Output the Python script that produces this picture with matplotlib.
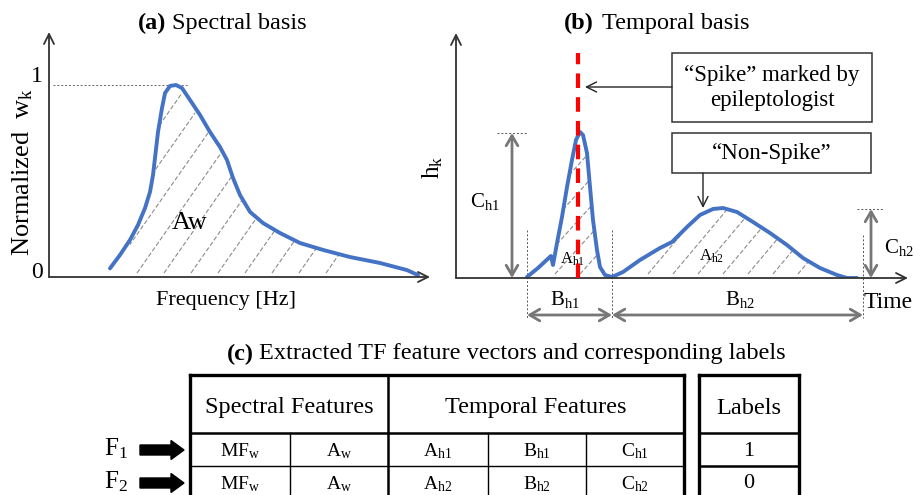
import numpy as np
import matplotlib
matplotlib.use('Agg')
import matplotlib.pyplot as plt
from matplotlib.patches import Polygon, Rectangle, FancyArrow

plt.rcParams['font.family'] = ['Liberation Serif', 'DejaVu Serif']
plt.rcParams['mathtext.fontset'] = 'custom'
plt.rcParams['mathtext.rm'] = 'Liberation Serif'
plt.rcParams['mathtext.it'] = 'Liberation Serif:italic'
plt.rcParams['mathtext.bf'] = 'Liberation Serif:bold'

# ---------------- data ----------------
freq = [1.601, 1.864, 2.126, 2.336, 2.520, 2.651, 2.730, 2.782, 2.861, 2.966, 3.045,
        3.176, 3.333, 3.491, 3.701, 3.963, 4.226, 4.488, 4.672, 4.829, 5.013, 5.276,
        5.617, 6.063, 6.588, 7.192, 7.900, 8.688, 9.396, 9.685]
w_norm = [0.045, 0.115, 0.193, 0.271, 0.359, 0.443, 0.531, 0.620, 0.755, 0.880, 0.958,
          0.995, 1.000, 0.984, 0.922, 0.844, 0.755, 0.677, 0.609, 0.516, 0.427, 0.339,
          0.281, 0.229, 0.177, 0.141, 0.104, 0.073, 0.036, 0.010]

time = [1.571, 1.814, 2.100, 2.146, 2.235, 2.345, 2.456, 2.566, 2.655, 2.743, 2.810,
        2.898, 2.965, 3.031, 3.119, 3.186, 3.296, 3.451, 3.695, 4.071, 4.513, 4.779,
        5.111, 5.398, 5.686, 5.907, 6.217, 6.571, 6.947, 7.323, 7.677, 8.053, 8.429,
        8.650, 8.872]
h_k = [0.01, 0.10, 0.22, 0.13, 0.35, 0.61, 0.91, 1.18, 1.38, 1.46, 1.43,
       1.25, 0.91, 0.58, 0.28, 0.11, 0.03, 0.01, 0.06, 0.18, 0.30, 0.36,
       0.51, 0.63, 0.69, 0.70, 0.66, 0.56, 0.45, 0.33, 0.20, 0.10, 0.03,
       0.00, 0.00]

spike_time = 2.70
spike_top = 2.25
peak1_range = (2.146, 3.451)
peak2_range = (3.9, 8.1)

table_groups = ["Spectral Features", "Temporal Features"]
label_header = "Labels"
row_names = [r"F$_\mathregular{1}$", r"F$_\mathregular{2}$"]
feature_rows = [
    [r"MF$_\mathregular{w}$", r"A$_\mathregular{w}$", r"A$_\mathregular{h1}$",
     r"B$_\mathregular{h1}$", r"C$_\mathregular{h1}$"],
    [r"MF$_\mathregular{w}$", r"A$_\mathregular{w}$", r"A$_\mathregular{h2}$",
     r"B$_\mathregular{h2}$", r"C$_\mathregular{h2}$"],
]
row_labels = ["1", "0"]

# ---------------- layout ----------------
W, H = 922, 495
fig = plt.figure(figsize=(W / 100, H / 100), dpi=100)


def rect(l, t, r, b):
    return [l / W, 1 - b / H, (r - l) / W, (b - t) / H]


ov = fig.add_axes([0, 0, 1, 1], zorder=0)
ov.set_xlim(0, W)
ov.set_ylim(H, 0)
ov.axis('off')

BLUE = '#4472C4'
GREY = '#777777'
AXC = '#333333'
axarrow = dict(arrowstyle='->,head_length=0.6,head_width=0.3', color=AXC, lw=1.3,
               mutation_scale=12, shrinkA=0, shrinkB=0)

# ---- panel (a)
ax_a = fig.add_axes(rect(49, 32, 430, 277), zorder=1)
ax_a.patch.set_alpha(0)
ax_a.set_xlim(0, 10)
ax_a.set_ylim(0, (277 - 32) / 192)
ax_a.axis('off')
ax_a.plot(freq, w_norm, color=BLUE, lw=2.8, solid_capstyle='round',
          solid_joinstyle='round', zorder=3)
ax_a.plot([0.1, 3.65], [1, 1], color='#666666', ls=(0, (2, 2)), lw=0.7)
for xy in [(1, 0), (0, 1)]:
    ax_a.annotate('', xy=xy, xytext=(0, 0), xycoords='axes fraction', arrowprops=axarrow)

# ---- panel (b)
ax_b = fig.add_axes(rect(456, 33, 908, 278), zorder=1)
ax_b.patch.set_alpha(0)
ax_b.set_xlim(0, 10)
ax_b.set_ylim(0, 2.45)
ax_b.axis('off')
ax_b.plot(time, h_k, color=BLUE, lw=2.8, solid_capstyle='round',
          solid_joinstyle='round', zorder=3)
ax_b.plot([spike_time, spike_time], [0, spike_top], color='#FF0000', lw=3,
          ls=(0, (3.5, 2.2)), zorder=4)
for xy in [(1, 0), (0, 1)]:
    ax_b.annotate('', xy=xy, xytext=(0, 0), xycoords='axes fraction', arrowprops=axarrow)


def hatch(ax, xs, ys, lo, hi, x0s, base_px, angle):
    xs = np.asarray(xs); ys = np.asarray(ys)
    m = (xs >= lo) & (xs <= hi)
    px, py = xs[m], np.clip(ys[m], 0, None) * 0.97
    verts = list(zip(px, py)) + [(px[-1], 0), (px[0], 0)]
    patch = Polygon(verts, closed=True, transform=ax.transData,
                    facecolor='none', edgecolor='none')
    ax.add_patch(patch)
    L = 400
    c, s = np.cos(np.radians(angle)), np.sin(np.radians(angle))
    for x0 in x0s:
        ln, = ov.plot([x0, x0 + L * c], [base_px - 4, base_px - 4 - L * s],
                      color='#8a8a8a', lw=0.8, ls=(0, (4, 2)))
        ln.set_clip_path(patch)


hatch(ax_a, freq, w_norm, 2.1, 9.0, np.arange(29, 335, 27), 277, 55)
hatch(ax_b, time, h_k, *peak1_range, np.arange(430, 600, 25), 278, 48)
hatch(ax_b, time, h_k, *peak2_range, np.arange(648, 810, 25), 278, 50)

# ---- texts panel (a)
TS = 17.5
ov.text(166, 23, '(a)', ha='right', va='center', fontsize=TS, fontweight='bold')
ov.text(172, 23, 'Spectral basis', ha='left', va='center', fontsize=TS)
ov.text(23, 172, r'Normalized  w$_\mathregular{k}$', rotation=90, ha='center',
        va='center', fontsize=19)
ov.text(37, 77, '1', ha='center', va='center', fontsize=17)
ov.text(37, 273, '0', ha='center', va='center', fontsize=17)
ov.text(226, 300, 'Frequency [Hz]', ha='center', va='center', fontsize=16)
ov.text(190, 223, 'Aw', ha='center', va='center', fontsize=19)

# ---- texts / annotations panel (b)
ov.text(594, 23, '(b)', ha='right', va='center', fontsize=TS, fontweight='bold')
ov.text(602, 23, 'Temporal basis', ha='left', va='center', fontsize=TS)
ov.text(433, 167, r'h$_\mathregular{k}$', rotation=90, ha='center', va='center', fontsize=18)
ov.text(888, 302, 'Time', ha='center', va='center', fontsize=17)

ov.add_patch(Rectangle((672, 53), 200, 69, fill=False, ec='#333333', lw=1.1))
ov.text(772, 88, '\u201cSpike\u201d marked by\nepileptologist', ha='center', va='center',
        fontsize=16.5, linespacing=1.25)
ov.add_patch(Rectangle((672, 133), 199, 40, fill=False, ec='#333333', lw=1.1))
ov.text(772, 153, '\u201cNon-Spike\u201d', ha='center', va='center', fontsize=16.5)

thin = dict(arrowstyle='->,head_length=0.6,head_width=0.3', color='#222222', lw=1.0,
            mutation_scale=12, shrinkA=0, shrinkB=0)
ov.annotate('', xy=(585, 87), xytext=(672, 87), arrowprops=thin)
ov.annotate('', xy=(703, 208), xytext=(703, 173), arrowprops=thin)

dbl = dict(arrowstyle='<->,head_length=0.6,head_width=0.35', color=GREY, lw=2.0,
           mutation_scale=12, shrinkA=0, shrinkB=0)
ov.annotate('', xy=(512, 133), xytext=(512, 278), arrowprops=dbl)
ov.annotate('', xy=(871, 209), xytext=(871, 278), arrowprops=dbl)
ov.annotate('', xy=(527, 315), xytext=(612, 315), arrowprops=dbl)
ov.annotate('', xy=(612, 315), xytext=(863, 315), arrowprops=dbl)
dot = dict(color='#555555', lw=0.7, ls=(0, (2, 2)))
ov.plot([497, 528], [133, 133], **dot)
ov.plot([857, 883], [209, 209], **dot)
ov.plot([527, 527], [230, 318], **dot)
ov.plot([612, 612], [230, 318], **dot)
ov.plot([863, 863], [235, 318], **dot)

ov.text(485, 202, r'C$_\mathregular{h1}$', ha='center', va='center', fontsize=15)
ov.text(899, 247, r'C$_\mathregular{h2}$', ha='center', va='center', fontsize=15)
ov.text(565, 300, r'B$_\mathregular{h1}$', ha='center', va='center', fontsize=15)
ov.text(740, 300, r'B$_\mathregular{h2}$', ha='center', va='center', fontsize=15)
ov.text(573, 259, r'A$_\mathregular{h1}$', ha='center', va='center', fontsize=12, zorder=5)
ov.text(712, 256, r'A$_\mathregular{h2}$', ha='center', va='center', fontsize=12)

# ---- panel (c) table
ov.text(254, 354, '(c)', ha='right', va='center', fontsize=TS, fontweight='bold')
ov.text(259, 354, 'Extracted TF feature vectors and corresponding labels',
        ha='left', va='center', fontsize=TS)

T_L, T_R, T_TOP, HDR, R1, T_BOT = 190, 684, 375, 433, 466, 520
col_x = [190, 290, 388, 488, 586, 684]
L_L, L_R = 699, 799
thick, mid, thinw = 2.4, 1.8, 1.0
kw = dict(color='black', solid_capstyle='projecting')
ov.plot([T_L, T_R], [T_TOP, T_TOP], lw=thick, **kw)
ov.plot([T_L, T_L], [T_TOP, T_BOT], lw=thick, **kw)
ov.plot([T_R, T_R], [T_TOP, T_BOT], lw=thick, **kw)
ov.plot([T_L, T_R], [HDR, HDR], lw=mid, **kw)
ov.plot([T_L, T_R], [R1, R1], lw=thinw, **kw)
ov.plot([col_x[2], col_x[2]], [T_TOP, T_BOT], lw=mid, **kw)
for cx in (col_x[1], col_x[3], col_x[4]):
    ov.plot([cx, cx], [HDR, T_BOT], lw=thinw, **kw)
ov.plot([L_L, L_R], [T_TOP, T_TOP], lw=thick, **kw)
ov.plot([L_L, L_L], [T_TOP, T_BOT], lw=thick, **kw)
ov.plot([L_R, L_R], [T_TOP, T_BOT], lw=thick, **kw)
ov.plot([L_L, L_R], [HDR, HDR], lw=mid, **kw)
ov.plot([L_L, L_R], [R1, R1], lw=mid, **kw)

ov.text((col_x[0] + col_x[2]) / 2, 408, table_groups[0], ha='center', va='center', fontsize=TS)
ov.text((col_x[2] + col_x[5]) / 2, 408, table_groups[1], ha='center', va='center', fontsize=TS)
ov.text((L_L + L_R) / 2, 408, label_header, ha='center', va='center', fontsize=TS)

row_y = [451, 484]
for r, y in enumerate(row_y):
    for c in range(5):
        ov.text((col_x[c] + col_x[c + 1]) / 2, y, feature_rows[r][c], ha='center',
                va='center', fontsize=14)
    ov.text((L_L + L_R) / 2, y, row_labels[r], ha='center', va='center', fontsize=16)
    ov.text(116, y - 2, row_names[r], ha='center', va='center', fontsize=18)
    ov.add_patch(FancyArrow(140, y - 1, 44, 0, width=10, head_width=19, head_length=13,
                            length_includes_head=True, color='black'))

fig.savefig('out.png', dpi=100)
